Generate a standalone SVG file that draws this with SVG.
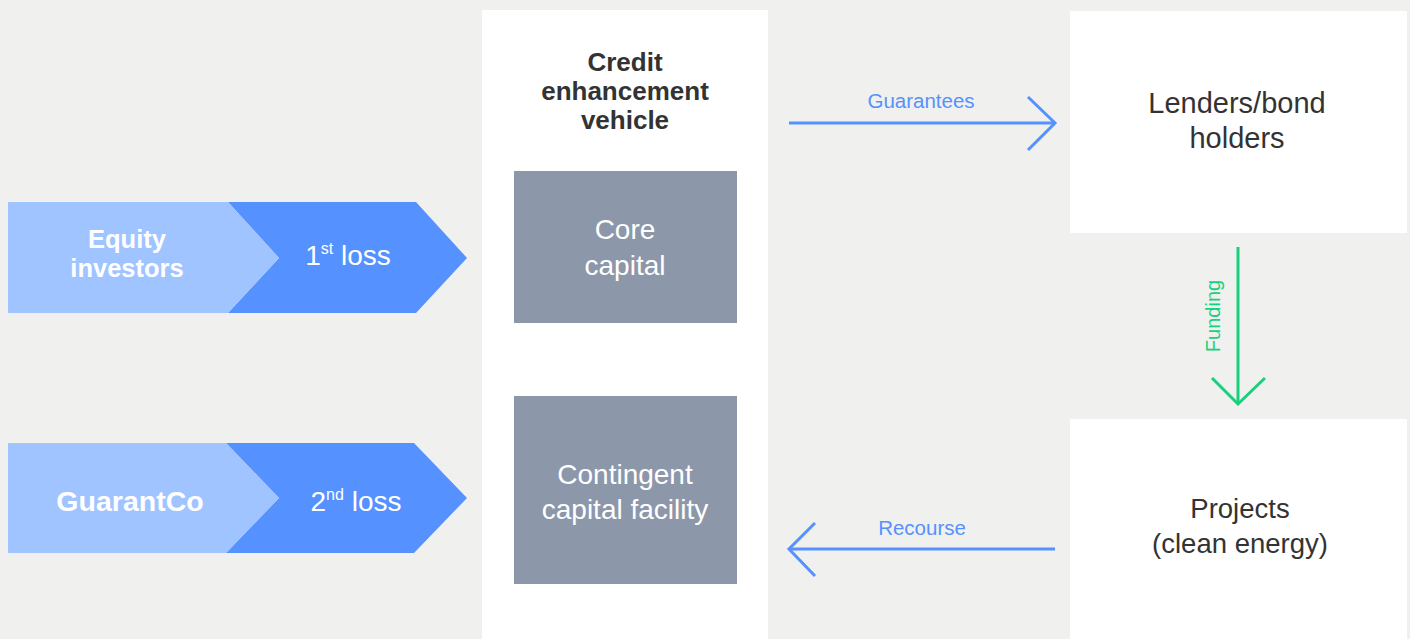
<svg xmlns="http://www.w3.org/2000/svg" width="1410" height="639" viewBox="0 0 1410 639">
<defs>
<style>
.t{font-family:"Liberation Sans",Arial,sans-serif}
.wl{fill:#ffffff;font-size:28px}
.wb{fill:#ffffff;font-size:25.5px;font-weight:bold}
.dk{fill:#333333;font-size:29px}
.lb{fill:#5591ff;font-size:20.5px}
.hd{fill:#333333;font-size:26px;font-weight:bold}
.ln{fill:none;stroke-width:3;stroke-linecap:butt}
</style>
</defs>
<rect x="0" y="0" width="1410" height="639" fill="#f0f0ee"/>
<g id="vehicle">
<rect x="482" y="10" width="286" height="629" fill="#ffffff"/>
<text class="t hd" x="625" y="71" text-anchor="middle">Credit</text>
<text class="t hd" x="625" y="100" text-anchor="middle">enhancement</text>
<text class="t hd" x="625" y="129" text-anchor="middle">vehicle</text>
</g>
<g id="core">
<rect x="514" y="171" width="223" height="152" fill="#8d97aa"/>
<text class="t wl" x="625" y="239" text-anchor="middle">Core</text>
<text class="t wl" x="625" y="275" text-anchor="middle">capital</text>
</g>
<g id="contingent">
<rect x="514" y="396" width="223" height="188" fill="#8d97aa"/>
<text class="t wl" x="625" y="484" text-anchor="middle">Contingent</text>
<text class="t wl" x="625" y="519" text-anchor="middle">capital facility</text>
</g>
<g id="lenders">
<rect x="1070" y="11" width="337" height="222" fill="#ffffff"/>
<text class="t dk" x="1237" y="113" text-anchor="middle">Lenders/bond</text>
<text class="t dk" x="1237" y="148" text-anchor="middle">holders</text>
</g>
<g id="projects">
<rect x="1070" y="419" width="337" height="220" fill="#ffffff"/>
<text class="t dk" x="1240" y="518" text-anchor="middle" style="font-size:27.5px">Projects</text>
<text class="t dk" x="1240" y="553" text-anchor="middle" style="font-size:27.5px">(clean energy)</text>
</g>
<g id="equity">
<polygon points="228,202 416,202 467,258 416,313 228,313 279,258" fill="#5591ff"/>
<polygon points="8,202 228,202 279,258 228,313 8,313" fill="#9fc4ff"/>
<text class="t wb" x="127" y="248" text-anchor="middle">Equity</text>
<text class="t wb" x="127" y="277" text-anchor="middle">investors</text>
<text class="t wl" x="348" y="265" text-anchor="middle">1<tspan font-size="16" dy="-11">st</tspan><tspan dy="11"> loss</tspan></text>
</g>
<g id="guarantco">
<polygon points="226,443 414,443 467,498 414,553 226,553 279,498" fill="#5591ff"/>
<polygon points="8,443 226,443 279,498 226,553 8,553" fill="#9fc4ff"/>
<text class="t wb" x="130" y="511" text-anchor="middle" style="font-size:28.5px">GuarantCo</text>
<text class="t wl" x="356" y="511" text-anchor="middle">2<tspan font-size="16" dy="-11">nd</tspan><tspan dy="11"> loss</tspan></text>
</g>
<g id="connectors">
<line class="ln" x1="789" y1="123" x2="1055" y2="123" stroke="#5591ff"/>
<polyline class="ln" points="1028,97 1055,123 1028,150" stroke="#5591ff"/>
<text class="t lb" x="921" y="108" text-anchor="middle">Guarantees</text>
<line class="ln" x1="1238" y1="247" x2="1238" y2="403" stroke="#17d17e"/>
<polyline class="ln" points="1212,378 1238,404 1265,378" stroke="#17d17e"/>
<text class="t" x="0" y="0" transform="translate(1220,316) rotate(-90)" text-anchor="middle" fill="#17d17e" font-size="20">Funding</text>
<line class="ln" x1="789" y1="549" x2="1055" y2="549" stroke="#5591ff"/>
<polyline class="ln" points="815,523 789,549 815,576" stroke="#5591ff"/>
<text class="t lb" x="922" y="535" text-anchor="middle">Recourse</text>
</g>
</svg>
